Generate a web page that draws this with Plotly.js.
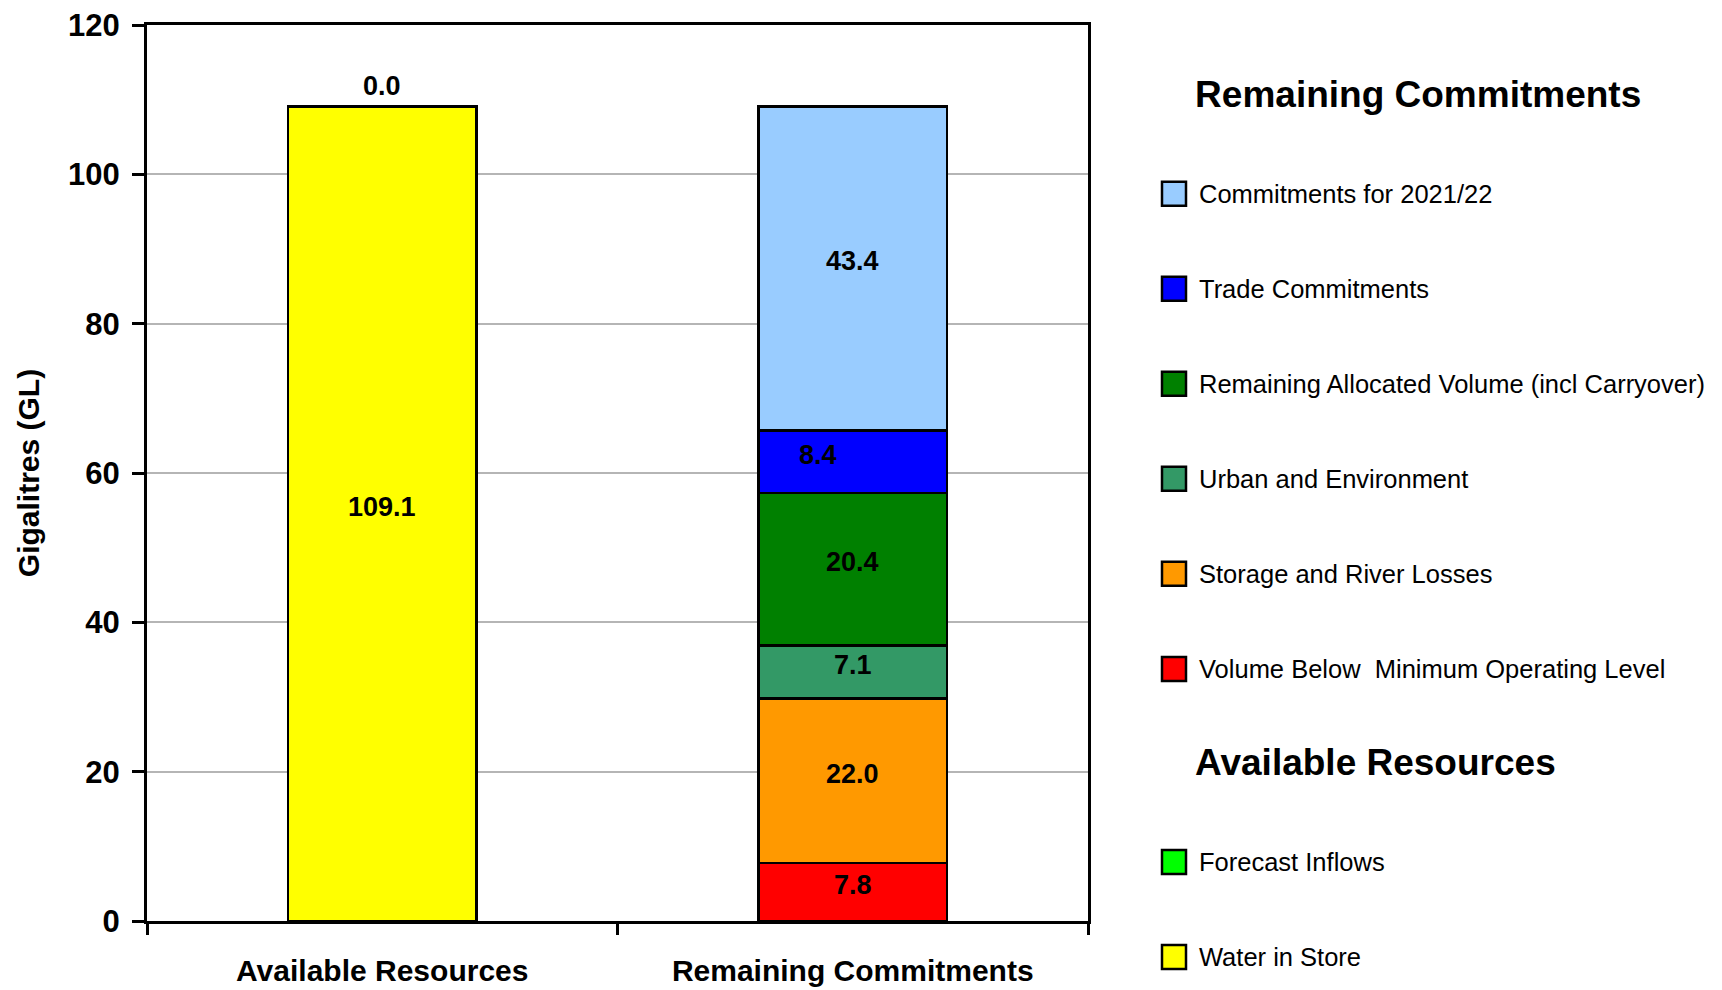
<!DOCTYPE html>
<html>
<head>
<meta charset="utf-8">
<script src="https://cdn.plot.ly/plotly-3.0.1.min.js"></script>
<style>
  html, body { margin: 0; padding: 0; background: #ffffff; }
  #chart { width: 1722px; height: 990px; }
</style>
</head>
<body>
<div id="chart"></div>
<script>
// ---- Data ----
const categories = ['Available Resources', 'Remaining Commitments'];

// Remaining Commitments stack (bottom to top)
const volumeBelowMOL      = [null, 7.8];
const storageRiverLosses  = [null, 22.0];
const urbanEnvironment    = [null, 7.1];
const remainingAllocated  = [null, 20.4];
const tradeCommitments    = [null, 8.4];
const commitments2122     = [null, 43.4];

// Available Resources stack (bottom to top)
const waterInStore    = [109.1, null];
const forecastInflows = [0.0, null];

const groupRemaining = 'Remaining Commitments';
const groupAvailable = 'Available Resources';

// ---- Styling ----
const FONT = '"Liberation Sans", Arial, "DejaVu Sans", sans-serif';
const LEG_ITEM_PX = 25.5;
const LEG_TITLE_PX = 37;
const LABEL_PX = 27;
const NBSP = '\u00a0';
// small horizontal nudge of a value label, as in the reference
const labelXShift = { 'Trade Commitments': -35 };

function legendName(s) {
  return NBSP + '<br><span style="font-size:' + LEG_ITEM_PX + 'px">' + s + '</span><br>' + NBSP;
}
function groupTitle(s) {
  return NBSP + '<br><span style="font-size:' + LEG_TITLE_PX + 'px">' + NBSP.repeat(4) + s + '</span><br>' + NBSP;
}

const series = [
  { name: 'Volume Below  Minimum Operating Level', values: volumeBelowMOL, color: '#FF0000', group: groupRemaining },
  { name: 'Storage and River Losses', values: storageRiverLosses, color: '#FF9900', group: groupRemaining },
  { name: 'Urban and Environment', values: urbanEnvironment, color: '#339966', group: groupRemaining },
  { name: 'Remaining Allocated Volume (incl Carryover)', values: remainingAllocated, color: '#008000', group: groupRemaining },
  { name: 'Trade Commitments', values: tradeCommitments, color: '#0000FF', group: groupRemaining },
  { name: 'Commitments for 2021/22', values: commitments2122, color: '#99CCFF', group: groupRemaining },
  { name: 'Water in Store', values: waterInStore, color: '#FFFF00', group: groupAvailable },
  { name: 'Forecast Inflows', values: forecastInflows, color: '#00FF00', group: groupAvailable }
];

const traces = series.map(function (s) {
  return {
    type: 'bar',
    x: categories,
    y: s.values,
    name: legendName(s.name),
    legendgroup: s.group,
    legendgrouptitle: {
      text: groupTitle(s.group),
      font: { family: FONT, size: 24.4, weight: 'bold', color: '#000000' }
    },
    marker: { color: s.color, line: { color: '#000000', width: 2.5 } },
    hoverinfo: 'x+y'
  };
});

// value labels: centred in each stacked segment; zero segments sit on top of the stack
const annotations = [];
const stackTop = categories.map(function () { return 0; });
series.forEach(function (s) {
  s.values.forEach(function (v, i) {
    if (v === null || v === undefined) return;
    const base = stackTop[i];
    const zero = v === 0;
    annotations.push({
      x: categories[i],
      y: zero ? base : base + v / 2,
      xref: 'x',
      yref: 'y',
      text: v.toFixed(1),
      showarrow: false,
      yanchor: zero ? 'bottom' : 'middle',
      xshift: labelXShift[s.name] || 0,
      yshift: zero ? 3 : 7,
      font: { family: FONT, size: LABEL_PX, weight: 'bold', color: '#000000' }
    });
    stackTop[i] = base + v;
  });
});

const layout = {
  width: 1722,
  height: 990,
  paper_bgcolor: '#ffffff',
  plot_bgcolor: '#ffffff',
  font: { family: FONT, color: '#000000' },
  barmode: 'stack',
  bargap: 0.6,
  margin: { l: 147, r: 634, t: 25, b: 69, pad: 0 },
  showlegend: true,
  xaxis: {
    type: 'category',
    range: [-0.5, 1.5],
    showline: true,
    linecolor: '#000000',
    linewidth: 3,
    mirror: true,
    ticks: 'outside',
    tickson: 'boundaries',
    ticklen: 11,
    tickwidth: 2.5,
    tickcolor: '#000000',
    ticklabelstandoff: 21,
    showgrid: false,
    tickfont: { family: FONT, size: 30, weight: 'bold', color: '#000000' }
  },
  yaxis: {
    range: [0, 120],
    dtick: 20,
    showline: true,
    linecolor: '#000000',
    linewidth: 3,
    mirror: true,
    ticks: 'outside',
    ticklen: 12,
    tickwidth: 2.5,
    tickcolor: '#000000',
    ticklabelstandoff: 6,
    showgrid: true,
    gridcolor: '#b5b5b5',
    gridwidth: 1.5,
    zeroline: false,
    tickfont: { family: FONT, size: 31, weight: 'bold', color: '#000000' },
    title: {
      text: 'Gigalitres (GL)',
      font: { family: FONT, size: 30, weight: 'bold', color: '#000000' },
      standoff: 20
    }
  },
  legend: {
    xref: 'container',
    yref: 'container',
    x: 1149 / 1722,
    xanchor: 'left',
    y: 1 - 43 / 990,
    yanchor: 'top',
    traceorder: 'grouped+reversed',
    tracegroupgap: 0,
    itemwidth: 40,
    valign: 'middle',
    maxheight: 2000,
    bgcolor: 'rgba(0,0,0,0)',
    borderwidth: 0,
    font: { family: FONT, size: 23.6, color: '#000000' },
    itemclick: false,
    itemdoubleclick: false
  },
  annotations: annotations
};

const gd = document.getElementById('chart');

// enlarge the legend swatches to match the reference's big squares
function enlargeLegendSwatches() {
  gd.querySelectorAll('.legend .legendpoints path').forEach(function (p) {
    p.setAttribute('d', 'M12,12H-12V-12H12Z');
    p.style.strokeWidth = '2.5px';
    p.style.stroke = '#000000';
  });
}

Plotly.newPlot(gd, traces, layout, { displayModeBar: false, responsive: false }).then(function () {
  enlargeLegendSwatches();
  gd.on('plotly_afterplot', enlargeLegendSwatches);
});
</script>
</body>
</html>
